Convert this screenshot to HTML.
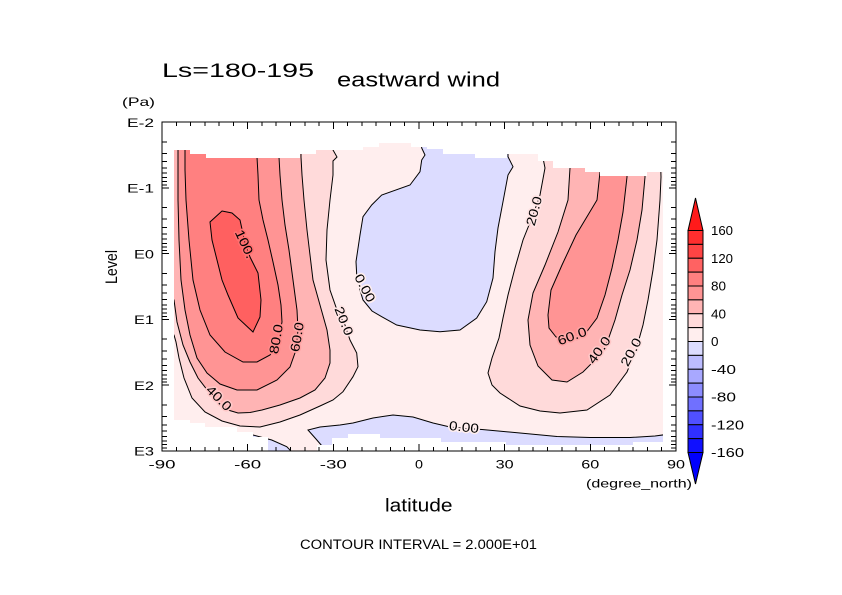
<!DOCTYPE html>
<html>
<head>
<meta charset="utf-8">
<style>
  html, body { margin: 0; padding: 0; background: #ffffff; }
  svg { display: block; }
  text { font-family: "Liberation Sans", "DejaVu Sans", sans-serif; fill: #000; }
  .cl { font-size: 13px; paint-order: stroke; stroke-width: 3px; stroke-linejoin: round; }
</style>
</head>
<body>
<svg width="842" height="595" viewBox="0 0 842 595" xmlns="http://www.w3.org/2000/svg">
  <rect x="0" y="0" width="842" height="595" fill="#ffffff"/>
  <defs>
    <clipPath id="dc">
      <polygon points="174,150 190,150 190,154 206,154 206,158 300,158 300,154 316,154 316,150 363,150 363,147 379,147 379,143 411,143 411,147 427,147 427,149 443,149 443,154 475,154 475,158 507,158 507,154 538,154 538,161 553,161 553,168 585,168 585,172 600,172 600,176 647,176 647,172 663,172 663,442 633,442 633,445 506,445 506,442 441,442 441,438 380,438 380,434 348,434 348,438 332,438 332,445 317,445 317,451 268,451 268,437 253,437 253,432 237,432 237,427 205,427 205,423 190,423 190,420 174,420"/>
    </clipPath>
  </defs>

  <!-- ===== Filled contours ===== -->
  <g clip-path="url(#dc)">
    <rect x="170" y="140" width="500" height="315" fill="#ffeeee"/>
    <!-- left jet -->
    <path fill="#ffdada" d="M170,140 L333,140 L333,150 L337,157 L333,161 L333,175 L330,200 L327,230 L326,260 L330,290 L337,310 L345,325 L350,340 L356.7,353 L358,366.7 L353,376.7 L343,391.7 L333,400 L320,406 L300,415 L280,422 L260,427 L240,426 L222,421 L205,412 L192,398 L184,378 L179,358 L176,342 L174,335 L170,333 Z"/>
    <path fill="#ffb4b4" d="M170,140 L301,140 L301,157 L302,175 L304,200 L307,230 L310,255 L313,280 L320,305 L327,330 L330,350 L330,363 L325,378 L315,390 L300,398 L280,405 L262,410 L250,412.5 L238,413 L228,410 L219,402 L208,391 L198,378 L190,362 L183,345 L177,322 L174,300 L170,296 Z"/>
    <path fill="#ff9494" d="M178,140 L279,140 L279,157 L280,175 L282,200 L285,225 L289,250 L293,280 L297,310 L298,330 L296,350 L290,367 L277,380 L257,390 L237,390 L220,384 L207,373 L197,358 L190,335 L185,310 L181,280 L179,240 L178,200 L178,175 Z"/>
    <path fill="#ff8080" d="M185,140 L257,140 L257,157 L258,175 L259,200 L263,220 L268,240 L273,262 L278,285 L281,305 L282,322 L278,342 L270,355 L257,362 L243,362 L225,352 L210,335 L200,310 L193,280 L189,240 L186,200 L185,170 Z"/>
    <path fill="#ff6060" d="M222,211 L232,213 L240,220 L245,243 L250,257 L258,273 L261,300 L260,317 L253,332 L238,318 L228,295 L222,280 L217,260 L212,240 L210,222 Z"/>
    <!-- right jet -->
    <path fill="#ffdada" d="M540,140 L543,158 L545,168 L540,195 L533,215 L523,240 L515,268 L508,295 L503,318 L499,338 L492,358 L488,373 L492,385 L500,393 L520,406 L540,411 L560,413 L587,410 L610,395 L627,372 L636,350 L643,325 L648,300 L653,270 L657,240 L660,200 L661,177 L660,140 Z"/>
    <path fill="#ffb4b4" d="M570,140 L570,168 L568,200 L558,232 L545,265 L533,293 L528,320 L530,345 L538,366 L552,380 L567,382 L583,372 L597,358 L608,340 L615,320 L622,295 L630,270 L637,240 L642,210 L645,177 L645,140 Z"/>
    <path fill="#ff9494" d="M600,140 L600,172 L597,200 L588,215 L576,235 L562,265 L551,290 L548,315 L549,328 L556,337 L570,341 L585,334 L597,318 L605,295 L612,268 L618,240 L623,212 L627,177 L627,140 Z"/>
    <!-- negative regions -->
    <path fill="#dcdcff" d="M421,140 L421.7,148 L425,155 L421.7,160 L420,171.7 L410,185 L381.7,195 L371.7,205 L363,216.7 L360,235 L356,261.7 L357,280 L363,300 L372,311 L381.7,316.7 L396.7,325 L420,330 L440,331.7 L460,330 L476.7,318 L486.7,301.7 L493,278 L495,251.7 L498,228 L503,201.7 L508,175 L513,166.7 L508,156.7 L508,140 Z"/>
    <path fill="#dcdcff" d="M308,430 L320,427 L340,425 L353,423 L373,418 L393,415 L413,417 L433,423 L450,427 L466,428.5 L482,429.5 L520,433 L557,436.5 L590,437.5 L630,437.5 L655,436 L670,434 L670,460 L322,460 L322,446 L316,439 Z"/>
    <path fill="#dcdcff" d="M253,435 L271.7,440 L286.7,446.7 L292,452 L253,452 Z"/>

    <!-- contour lines -->
    <g fill="none" stroke="#000" stroke-width="1">
      <polyline points="333,140 333,150 337,157 333,161 333,175 330,200 327,230 326,260 330,290 337,310 345,325 350,340 356.7,353 358,366.7 353,376.7 343,391.7 333,400 320,406 300,415 280,422 260,427 240,426 222,421 205,412 192,398 184,378 179,358 176,342 174,335 170,333"/>
      <polyline points="301,140 301,157 302,175 304,200 307,230 310,255 313,280 320,305 327,330 330,350 330,363 325,378 315,390 300,398 280,405 262,410 250,412.5 238,413 228,410 219,402 208,391 198,378 190,362 183,345 177,322 174,300 170,296"/>
      <polyline points="279,140 279,157 280,175 282,200 285,225 289,250 293,280 297,310 298,330 296,350 290,367 277,380 257,390 237,390 220,384 207,373 197,358 190,335 185,310 181,280 179,240 178,200 178,175 178,140"/>
      <polyline points="257,140 257,157 258,175 259,200 263,220 268,240 273,262 278,285 281,305 282,322 278,342 270,355 257,362 243,362 225,352 210,335 200,310 193,280 189,240 186,200 185,170 185,140"/>
      <polygon points="222,211 232,213 240,220 245,243 250,257 258,273 261,300 260,317 253,332 238,318 228,295 222,280 217,260 212,240 210,222"/>
      <polyline points="540,140 543,158 545,168 540,195 533,215 523,240 515,268 508,295 503,318 499,338 492,358 488,373 492,385 500,393 520,406 540,411 560,413 587,410 610,395 627,372 636,350 643,325 648,300 653,270 657,240 660,200 661,177 660,140"/>
      <polyline points="570,140 570,168 568,200 558,232 545,265 533,293 528,320 530,345 538,366 552,380 567,382 583,372 597,358 608,340 615,320 622,295 630,270 637,240 642,210 645,177 645,140"/>
      <polyline points="600,140 600,172 597,200 588,215 576,235 562,265 551,290 548,315 549,328 556,337 570,341 585,334 597,318 605,295 612,268 618,240 623,212 627,177 627,140"/>
      <polyline points="421,140 421.7,148 425,155 421.7,160 420,171.7 410,185 381.7,195 371.7,205 363,216.7 360,235 356,261.7 357,280 363,300 372,311 381.7,316.7 396.7,325 420,330 440,331.7 460,330 476.7,318 486.7,301.7 493,278 495,251.7 498,228 503,201.7 508,175 513,166.7 508,156.7 508,140"/>
      <polyline points="322,446 316,439 308,430 320,427 340,425 353,423 373,418 393,415 413,417 433,423 450,427 466,428.5 482,429.5 520,433 557,436.5 590,437.5 630,437.5 655,436 670,434"/>
      <polyline points="253,435 271.7,440 286.7,446.7 292,452"/>
    </g>
  </g>

  <!-- contour labels -->
  <g>
    <text class="cl" stroke="#ff7070" transform="translate(245,244) rotate(65)" text-anchor="middle" dy="4.5" textLength="30" lengthAdjust="spacingAndGlyphs">100.</text>
    <text class="cl" stroke="#ff8a8a" transform="translate(276,339) rotate(-80)" text-anchor="middle" dy="4.5" textLength="30" lengthAdjust="spacingAndGlyphs">80.0</text>
    <text class="cl" stroke="#ffa4a4" transform="translate(297,337) rotate(-80)" text-anchor="middle" dy="4.5" textLength="30" lengthAdjust="spacingAndGlyphs">60.0</text>
    <text class="cl" stroke="#ffc7c7" transform="translate(219,398) rotate(45)" text-anchor="middle" dy="4.5" textLength="30" lengthAdjust="spacingAndGlyphs">40.0</text>
    <text class="cl" stroke="#ffe4e4" transform="translate(344,321) rotate(68)" text-anchor="middle" dy="4.5" textLength="30" lengthAdjust="spacingAndGlyphs">20.0</text>
    <text class="cl" stroke="#ffeeee" transform="translate(365,288) rotate(62)" text-anchor="middle" dy="4.5" textLength="30" lengthAdjust="spacingAndGlyphs">0.00</text>
    <text class="cl" stroke="#ffeeee" transform="translate(464,427) rotate(6)" text-anchor="middle" dy="4.5" textLength="30" lengthAdjust="spacingAndGlyphs">0.00</text>
    <text class="cl" stroke="#ffe4e4" transform="translate(534,211) rotate(-75)" text-anchor="middle" dy="4.5" textLength="30" lengthAdjust="spacingAndGlyphs">20.0</text>
    <text class="cl" stroke="#ffa4a4" transform="translate(572,336) rotate(-20)" text-anchor="middle" dy="4.5" textLength="30" lengthAdjust="spacingAndGlyphs">60.0</text>
    <text class="cl" stroke="#ffc7c7" transform="translate(599,350) rotate(-55)" text-anchor="middle" dy="4.5" textLength="30" lengthAdjust="spacingAndGlyphs">40.0</text>
    <text class="cl" stroke="#ffe4e4" transform="translate(631,352) rotate(-62)" text-anchor="middle" dy="4.5" textLength="30" lengthAdjust="spacingAndGlyphs">20.0</text>
  </g>

  <!-- ===== Frame & ticks ===== -->
  <g stroke="#000" stroke-width="1" fill="none" shape-rendering="crispEdges">
    <rect x="162" y="122" width="514" height="329"/>
    <path d="M176.3 451v-4M190.6 451v-4M204.8 451v-4M219.1 451v-4M233.4 451v-4M247.7 451v-7M261.9 451v-4M276.2 451v-4M290.5 451v-4M304.8 451v-4M319.1 451v-4M333.3 451v-7M347.6 451v-4M361.9 451v-4M376.2 451v-4M390.4 451v-4M404.7 451v-4M419 451v-7M433.3 451v-4M447.6 451v-4M461.8 451v-4M476.1 451v-4M490.4 451v-4M504.7 451v-7M518.9 451v-4M533.2 451v-4M547.5 451v-4M561.8 451v-4M576.1 451v-4M590.3 451v-7M604.6 451v-4M618.9 451v-4M633.2 451v-4M647.4 451v-4M661.7 451v-4"/>
    <path d="M176.3 122v4M190.6 122v4M204.8 122v4M219.1 122v4M233.4 122v4M247.7 122v7M261.9 122v4M276.2 122v4M290.5 122v4M304.8 122v4M319.1 122v4M333.3 122v7M347.6 122v4M361.9 122v4M376.2 122v4M390.4 122v4M404.7 122v4M419 122v7M433.3 122v4M447.6 122v4M461.8 122v4M476.1 122v4M490.4 122v4M504.7 122v7M518.9 122v4M533.2 122v4M547.5 122v4M561.8 122v4M576.1 122v4M590.3 122v7M604.6 122v4M618.9 122v4M633.2 122v4M647.4 122v4M661.7 122v4"/>
    <path d="M162 141.8h5M162 153.4h5M162 161.6h5M162 168h5M162 173.2h5M162 177.6h5M162 181.4h5M162 184.8h5M162 187.8h7M162 207.6h5M162 219.2h5M162 227.4h5M162 233.8h5M162 239h5M162 243.4h5M162 247.2h5M162 250.6h5M162 253.6h7M162 273.4h5M162 285h5M162 293.2h5M162 299.6h5M162 304.8h5M162 309.2h5M162 313h5M162 316.4h5M162 319.4h7M162 339.2h5M162 350.8h5M162 359h5M162 365.4h5M162 370.6h5M162 375h5M162 378.8h5M162 382.2h5M162 385.2h7M162 405h5M162 416.6h5M162 424.8h5M162 431.2h5M162 436.4h5M162 440.8h5M162 444.6h5M162 448h5"/>
    <path d="M676 141.8h-5M676 153.4h-5M676 161.6h-5M676 168h-5M676 173.2h-5M676 177.6h-5M676 181.4h-5M676 184.8h-5M676 187.8h-7M676 207.6h-5M676 219.2h-5M676 227.4h-5M676 233.8h-5M676 239h-5M676 243.4h-5M676 247.2h-5M676 250.6h-5M676 253.6h-7M676 273.4h-5M676 285h-5M676 293.2h-5M676 299.6h-5M676 304.8h-5M676 309.2h-5M676 313h-5M676 316.4h-5M676 319.4h-7M676 339.2h-5M676 350.8h-5M676 359h-5M676 365.4h-5M676 370.6h-5M676 375h-5M676 378.8h-5M676 382.2h-5M676 385.2h-7M676 405h-5M676 416.6h-5M676 424.8h-5M676 431.2h-5M676 436.4h-5M676 440.8h-5M676 444.6h-5M676 448h-5"/>
  </g>

  <!-- ===== Axis labels ===== -->
  <g font-size="12">
    <text x="154" y="127" text-anchor="end" textLength="27" lengthAdjust="spacingAndGlyphs">E-2</text>
    <text x="154" y="192.5" text-anchor="end" textLength="27" lengthAdjust="spacingAndGlyphs">E-1</text>
    <text x="154" y="258.3" text-anchor="end" textLength="20" lengthAdjust="spacingAndGlyphs">E0</text>
    <text x="154" y="324" text-anchor="end" textLength="20" lengthAdjust="spacingAndGlyphs">E1</text>
    <text x="154" y="389.8" text-anchor="end" textLength="20" lengthAdjust="spacingAndGlyphs">E2</text>
    <text x="154" y="455.6" text-anchor="end" textLength="20" lengthAdjust="spacingAndGlyphs">E3</text>

    <text x="162" y="468.5" text-anchor="middle" textLength="27" lengthAdjust="spacingAndGlyphs">-90</text>
    <text x="247.7" y="468.5" text-anchor="middle" textLength="27" lengthAdjust="spacingAndGlyphs">-60</text>
    <text x="333.3" y="468.5" text-anchor="middle" textLength="27" lengthAdjust="spacingAndGlyphs">-30</text>
    <text x="419" y="468.5" text-anchor="middle" textLength="8" lengthAdjust="spacingAndGlyphs">0</text>
    <text x="504.7" y="468.5" text-anchor="middle" textLength="18" lengthAdjust="spacingAndGlyphs">30</text>
    <text x="590.3" y="468.5" text-anchor="middle" textLength="18" lengthAdjust="spacingAndGlyphs">60</text>
    <text x="676" y="468.5" text-anchor="middle" textLength="18" lengthAdjust="spacingAndGlyphs">90</text>

    <text x="586" y="487.5" textLength="106" lengthAdjust="spacingAndGlyphs">(degree_north)</text>
    <text x="122" y="106" textLength="33" lengthAdjust="spacingAndGlyphs">(Pa)</text>
  </g>

  <text x="385" y="511.5" font-size="18" textLength="67.5" lengthAdjust="spacingAndGlyphs">latitude</text>
  <text transform="translate(117,284) rotate(-90)" font-size="17" textLength="34" lengthAdjust="spacingAndGlyphs">Level</text>
  <text x="300" y="549" font-size="13.5" textLength="237" lengthAdjust="spacingAndGlyphs">CONTOUR INTERVAL = 2.000E+01</text>

  <!-- ===== Titles ===== -->
  <text x="162" y="77" font-size="19.5" textLength="152" lengthAdjust="spacingAndGlyphs">Ls=180-195</text>
  <text x="337" y="86.5" font-size="20" textLength="163" lengthAdjust="spacingAndGlyphs">eastward wind</text>

  <!-- ===== Colorbar ===== -->
  <g stroke="#000" stroke-width="1">
    <polygon points="688,230.5 703,230.5 695.5,198" fill="#ff1a1a"/>
    <rect x="688" y="230.5" width="15" height="13.875" fill="#ff2e2e"/>
    <rect x="688" y="244.375" width="15" height="13.875" fill="#ff4444"/>
    <rect x="688" y="258.25" width="15" height="13.875" fill="#ff6262"/>
    <rect x="688" y="272.125" width="15" height="13.875" fill="#ff8080"/>
    <rect x="688" y="286" width="15" height="13.875" fill="#ff9494"/>
    <rect x="688" y="299.875" width="15" height="13.875" fill="#ffb4b4"/>
    <rect x="688" y="313.75" width="15" height="13.875" fill="#ffdada"/>
    <rect x="688" y="327.625" width="15" height="13.875" fill="#ffeeee"/>
    <rect x="688" y="341.5" width="15" height="13.875" fill="#dcdcff"/>
    <rect x="688" y="355.375" width="15" height="13.875" fill="#bcbcff"/>
    <rect x="688" y="369.25" width="15" height="13.875" fill="#a8a8ff"/>
    <rect x="688" y="383.125" width="15" height="13.875" fill="#8c8cff"/>
    <rect x="688" y="397" width="15" height="13.875" fill="#7070ff"/>
    <rect x="688" y="410.875" width="15" height="13.875" fill="#5050ff"/>
    <rect x="688" y="424.75" width="15" height="13.875" fill="#3030ff"/>
    <rect x="688" y="438.625" width="15" height="13.875" fill="#1010ff"/>
    <polygon points="688,452.5 703,452.5 695.5,484" fill="#0000ff"/>
  </g>
  <g font-size="12.5">
    <text x="711" y="235" textLength="22" lengthAdjust="spacingAndGlyphs">160</text>
    <text x="711" y="262.8" textLength="22" lengthAdjust="spacingAndGlyphs">120</text>
    <text x="711" y="290.5" textLength="15" lengthAdjust="spacingAndGlyphs">80</text>
    <text x="711" y="318.3" textLength="15" lengthAdjust="spacingAndGlyphs">40</text>
    <text x="711" y="346" textLength="7.5" lengthAdjust="spacingAndGlyphs">0</text>
    <text x="711" y="373.8" textLength="25" lengthAdjust="spacingAndGlyphs">-40</text>
    <text x="711" y="401.5" textLength="25" lengthAdjust="spacingAndGlyphs">-80</text>
    <text x="711" y="429.3" textLength="33" lengthAdjust="spacingAndGlyphs">-120</text>
    <text x="711" y="457" textLength="33" lengthAdjust="spacingAndGlyphs">-160</text>
  </g>
</svg>
</body>
</html>
